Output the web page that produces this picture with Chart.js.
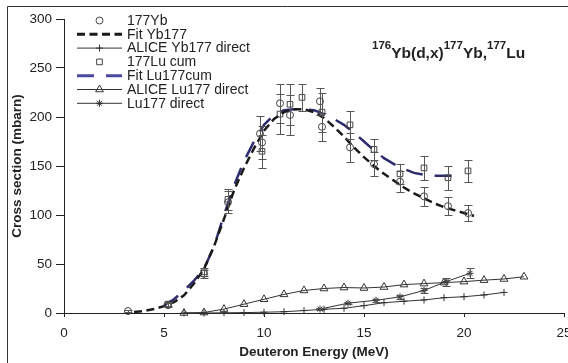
<!DOCTYPE html>
<html><head><meta charset="utf-8">
<script src="https://cdn.jsdelivr.net/npm/chart.js@4/dist/chart.umd.min.js"></script>
<style>html,body{margin:0;padding:0;background:#fff;}#wrap{width:568px;height:363px;position:relative;}</style>
</head><body><div id="wrap"><canvas id="c" width="568" height="363"></canvas></div>
<script>
// ---- data ----
const ybE   = [3.2, 5.2, 7.0, 8.2, 9.8, 9.9, 10.8, 11.3, 12.8, 12.9, 14.3, 15.5, 16.8, 18.0, 19.2, 20.2];
const ybS   = [2, 8, 40, 113, 183, 174, 214, 202, 216, 190, 169, 152, 134, 119, 109, 102];
const ybErr = [1, 2, 4, 11, 18, 17, 20, 20, 14, 14, 15, 12, 11, 10, 9, 8];

const fitYbE = [3.5, 4, 4.5, 5, 5.5, 6, 6.5, 7, 7.5, 8, 8.5, 9, 9.5, 10, 10.5, 11, 11.5, 12, 12.5, 13, 13.5, 14, 14.5, 15, 15.5, 16, 16.5, 17, 17.5, 18, 18.5, 19, 19.5, 20, 20.5];
const fitYbS = [1, 2, 4, 7, 11, 18, 30, 45, 68, 96, 125, 148, 168, 186, 198, 205, 208, 208, 205, 199, 190, 180, 169, 159, 150, 142, 135, 128, 122, 117, 112, 108, 105, 102, 99];

const aliceYbE = [6, 7, 8, 9, 10, 11, 12, 13, 14, 15, 16, 17, 18, 19, 20, 21, 22];
const aliceYbS = [0, 0, 0.2, 0.4, 0.8, 1.3, 2.5, 3.8, 4.8, 7.5, 10.5, 12, 13.3, 15.6, 16.6, 18.4, 21];

const luE   = [5.2, 7.0, 8.2, 9.9, 10.8, 11.3, 11.9, 12.9, 14.3, 15.5, 16.8, 18.0, 19.2, 20.2];
const luS   = [9, 42, 116, 165, 203, 213, 220, 205, 192, 167, 142, 148, 138, 145];
const luErr = [2, 4, 11, 17, 20, 21, 14, 20, 14, 11, 10, 12, 12, 11];

const fitLuE = [5, 5.5, 6, 6.5, 7, 7.5, 8, 8.5, 9, 9.5, 10, 10.5, 11, 11.5, 12, 12.5, 13, 13.5, 14, 14.5, 15, 15.5, 16, 16.5, 17, 17.5, 18, 18.5, 19, 19.7];
const fitLuS = [8, 14, 23, 33, 45, 68, 100, 130, 155, 175, 192, 202, 207, 208, 208, 207, 203, 198, 192, 184, 175, 166, 158, 152, 147, 143, 141, 140, 140, 140];

const aliceLuE = [6, 7, 8, 9, 10, 11, 12, 13, 14, 15, 16, 17, 18, 19, 20, 21, 22, 23];
const aliceLuS = [0, 0.5, 4, 9, 14, 19, 23, 25, 26, 25.5, 26.5, 29, 30, 31, 32, 33.5, 34.7, 37];

const luDirE   = [12.8, 14.2, 15.6, 16.8, 18.0, 19.1, 20.3];
const luDirS   = [4, 10, 13, 16.5, 23, 32, 40.5];
const luDirErr = [1, 1, 1.5, 2, 3, 4, 5];

const labels = ['177Yb', 'Fit Yb177', 'ALICE Yb177 direct', '177Lu cum', 'Fit Lu177cum', 'ALICE Lu177 direct', 'Lu177 direct'];
const xTicksStep = 5, yTicksStep = 50;

// ---- helpers ----
const FONT = "'Liberation Sans', Arial, Helvetica, sans-serif";
const TXT = '#222';
const pts = (xs, ys) => xs.map((x, i) => ({x: x, y: ys[i]}));

const errorBars = {
  id: 'errorBars',
  afterDatasetsDraw(chart) {
    const ctx = chart.ctx, xs = chart.scales.x, ys = chart.scales.y;
    chart.data.datasets.forEach(ds => {
      if (!ds.errors) return;
      ctx.save();
      ctx.strokeStyle = '#555'; ctx.lineWidth = 1; ctx.setLineDash([]);
      ds.data.forEach((p, i) => {
        const e = ds.errors[i];
        const x = Math.round(xs.getPixelForValue(p.x)) + 0.5;
        const yt = Math.round(ys.getPixelForValue(p.y + e)) + 0.5;
        const yb = Math.round(ys.getPixelForValue(p.y - e)) + 0.5;
        ctx.beginPath();
        ctx.moveTo(x, yt); ctx.lineTo(x, yb);
        ctx.moveTo(x - 4, yt); ctx.lineTo(x + 4, yt);
        ctx.moveTo(x - 4, yb); ctx.lineTo(x + 4, yb);
        ctx.stroke();
      });
      ctx.restore();
    });
  }
};

const legendPlugin = {
  id: 'customLegend',
  afterDraw(chart) {
    const ctx = chart.ctx;
    ctx.save();
    chart.data.datasets.forEach((ds, i) => {
      const y = 20.5 + i * 13.8;
      const x0 = 77, x1 = 122, xm = 99.5;
      if (ds.showLine) {
        ctx.beginPath();
        ctx.setLineDash(ds.borderDash || []);
        ctx.lineWidth = ds.legendWidth || ds.borderWidth; ctx.strokeStyle = ds.legendColor || ds.borderColor;
        ctx.moveTo(x0, y); ctx.lineTo(x1, y); ctx.stroke();
        ctx.setLineDash([]);
      }
      if (ds.pointRadius > 0) {
        ctx.strokeStyle = ds.pointBorderColor; ctx.fillStyle = 'rgba(0,0,0,0)';
        ctx.lineWidth = ds.pointBorderWidth;
        Chart.helpers.drawPoint(ctx, {pointStyle: ds.pointStyle, radius: ds.pointRadius, rotation: 0, borderWidth: ds.pointBorderWidth}, xm, y);
      }
      ctx.fillStyle = TXT; ctx.font = '14px ' + FONT;
      ctx.textBaseline = 'middle'; ctx.textAlign = 'left';
      ctx.fillText(ds.label, 127, y + 0.5);
    });
    ctx.restore();
  }
};

const titlePlugin = {
  id: 'reactionTitle',
  afterDraw(chart) {
    const ctx = chart.ctx;
    ctx.save();
    ctx.fillStyle = TXT; ctx.textBaseline = 'alphabetic'; ctx.textAlign = 'left';
    const parts = [['176', true], ['Yb(d,x)', false], ['177', true], ['Yb,', false], ['177', true], ['Lu', false]];
    let x = 372;
    parts.forEach(([t, sup]) => {
      ctx.font = 'bold ' + (sup ? 11.5 : 15.5) + 'px ' + FONT;
      ctx.fillText(t, x, sup ? 48.5 : 57.5);
      x += ctx.measureText(t).width;
    });
    // outer frame (top and left edges visible in the picture)
    ctx.strokeStyle = '#333'; ctx.lineWidth = 1;
    ctx.beginPath();
    ctx.moveTo(7.5, 363); ctx.lineTo(7.5, 6.5); ctx.lineTo(568, 6.5);
    ctx.stroke();
    ctx.restore();
  }
};

const thin = '#333';
const datasets = [
  { label: labels[0], data: pts(ybE, ybS), errors: ybErr, showLine: false,
    pointStyle: 'circle', pointRadius: 3.5, pointBorderColor: '#444', pointBackgroundColor: 'rgba(0,0,0,0)', pointBorderWidth: 1 },
  { label: labels[1], data: pts(fitYbE, fitYbS), showLine: true, borderColor: '#1a1a1a', borderWidth: 2.5, legendWidth: 3, borderDash: [8, 4.5],
    pointRadius: 0, pointBorderColor: '#111', pointBorderWidth: 1 },
  { label: labels[2], data: pts(aliceYbE, aliceYbS), showLine: true, borderColor: thin, borderWidth: 1,
    pointStyle: 'cross', pointRadius: 3.5, pointBorderColor: thin, pointBackgroundColor: 'rgba(0,0,0,0)', pointBorderWidth: 1 },
  { label: labels[3], data: pts(luE, luS), errors: luErr, showLine: false,
    pointStyle: 'rect', pointRadius: 4, pointBorderColor: '#444', pointBackgroundColor: 'rgba(0,0,0,0)', pointBorderWidth: 1 },
  { label: labels[4], data: pts(fitLuE, fitLuS), showLine: true, borderColor: '#2c2c6e', legendColor: '#4a4aa0', borderWidth: 2.5, legendWidth: 3, borderDash: [17, 12],
    pointRadius: 0, pointBorderColor: '#3a3a8c', pointBorderWidth: 1 },
  { label: labels[5], data: pts(aliceLuE, aliceLuS), showLine: true, borderColor: thin, borderWidth: 1,
    pointStyle: 'triangle', pointRadius: 4.5, pointBorderColor: thin, pointBackgroundColor: 'rgba(0,0,0,0)', pointBorderWidth: 1 },
  { label: labels[6], data: pts(luDirE, luDirS), errors: luDirErr, showLine: true, borderColor: thin, borderWidth: 1,
    pointStyle: 'star', pointRadius: 3.5, pointBorderColor: thin, pointBackgroundColor: 'rgba(0,0,0,0)', pointBorderWidth: 1 }
];
datasets.forEach(d => { d.clip = false; d.tension = 0; d.fill = false; });

new Chart(document.getElementById('c'), {
  type: 'scatter',
  data: { datasets: datasets },
  options: {
    responsive: false, animation: false, devicePixelRatio: 1,
    layout: { autoPadding: false, padding: { top: 19, right: 4, left: 0, bottom: 0 } },
    plugins: { legend: { display: false }, tooltip: { enabled: false } },
    scales: {
      x: {
        type: 'linear', min: 0, max: 25,
        ticks: { stepSize: xTicksStep, color: TXT, font: { family: FONT, size: 13.5 }, padding: 8, maxRotation: 0 },
        grid: { display: true, drawOnChartArea: false, drawTicks: true, tickLength: 4, color: '#222' },
        border: { display: true, color: '#222', width: 1 },
        title: { display: true, text: 'Deuteron Energy (MeV)', color: TXT, font: { family: FONT, size: 13.5, weight: 'bold' }, padding: { top: 0, bottom: 3 } },
        afterFit(s) { s.height = 50; s.paddingLeft = 0; s.paddingRight = 0; }
      },
      y: {
        type: 'linear', min: 0, max: 300,
        ticks: { stepSize: yTicksStep, color: TXT, font: { family: FONT, size: 13.5 }, padding: 4 },
        grid: { display: true, drawOnChartArea: false, drawTicks: true, tickLength: 8, color: '#222' },
        border: { display: true, color: '#222', width: 1 },
        title: { display: true, text: 'Cross section (mbarn)', color: TXT, font: { family: FONT, size: 13.5, weight: 'bold' }, padding: { top: 9, bottom: 0 } },
        afterFit(s) { s.width = 64; s.paddingTop = 0; s.paddingBottom = 0; }
      }
    }
  },
  plugins: [errorBars, legendPlugin, titlePlugin]
});
</script></body></html>
